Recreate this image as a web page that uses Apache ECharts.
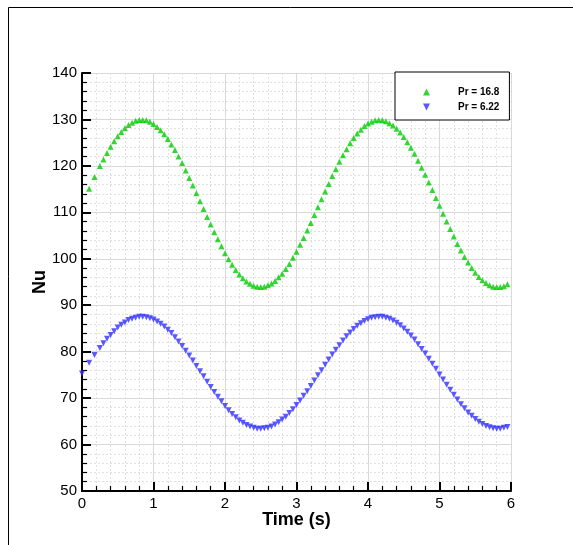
<!DOCTYPE html>
<html>
<head>
<meta charset="utf-8">
<script src="https://cdn.jsdelivr.net/npm/echarts@6/dist/echarts.min.js"></script>
<style>
html,body{margin:0;padding:0;background:#fff;}
#chart{width:573px;height:545px;}
</style>
</head>
<body>
<div id="chart"></div>
<script>
// Time (s) of each sample
var time = [0, 0.1, 0.175, 0.25,
0.3,0.35,0.4,0.45,0.5,0.55,0.6,0.65,0.7,0.75,0.8,0.85,0.9,0.95,1.0,1.05,1.1,1.15,1.2,1.25,1.3,1.35,1.4,1.45,1.5,1.55,
1.6,1.65,1.7,1.75,1.8,1.85,1.9,1.95,2.0,2.05,2.1,2.15,2.2,2.25,2.3,2.35,2.4,2.45,2.5,2.55,2.6,2.65,2.7,2.75,2.8,2.85,
2.9,2.95,3.0,3.05,3.1,3.15,3.2,3.25,3.3,3.35,3.4,3.45,3.5,3.55,3.6,3.65,3.7,3.75,3.8,3.85,3.9,3.95,4.0,4.05,4.1,4.15,
4.2,4.25,4.3,4.35,4.4,4.45,4.5,4.55,4.6,4.65,4.7,4.75,4.8,4.85,4.9,4.95,5.0,5.05,5.1,5.15,5.2,5.25,5.3,5.35,5.4,5.45,
5.5,5.55,5.6,5.65,5.7,5.75,5.8,5.85,5.9,5.95];

// Nu for Pr = 16.8 (no marker at t = 0)
var nuPr168 = [null, 115.1, 117.6, 120.0,
121.4,122.8,124.1,125.3,126.4,127.3,128.1,128.8,129.3,129.7,129.9,129.9,129.8,129.5,129.0,128.4,127.7,126.8,125.8,124.6,123.4,122.0,120.6,119.0,117.4,115.8,
114.1,112.4,110.7,109.0,107.4,105.7,104.2,102.7,101.2,99.9,98.7,97.6,96.6,95.8,95.1,94.6,94.2,94.0,93.9,94.0,94.3,94.7,95.2,96.0,96.8,97.8,
98.9,100.2,101.5,103.0,104.5,106.1,107.7,109.4,111.1,112.8,114.5,116.1,117.8,119.3,120.9,122.3,123.6,124.9,126.0,127.0,127.8,128.6,129.1,129.5,129.8,129.9,
129.8,129.6,129.2,128.7,128.0,127.2,126.2,125.1,123.9,122.6,121.1,119.6,118.1,116.4,114.8,113.1,111.4,109.7,108.0,106.4,104.8,103.2,101.8,100.4,99.2,98.0,
97.0,96.1,95.4,94.8,94.3,94.0,93.9,93.9,94.1,94.5];

// Nu for Pr = 6.22
var nuPr622 = [75.3, 77.6, 79.3, 80.8,
81.8,82.8,83.6,84.4,85.2,85.8,86.3,86.8,87.1,87.3,87.5,87.5,87.4,87.2,86.9,86.5,86.0,85.4,84.7,84.0,83.1,82.2,81.2,80.2,79.2,78.1,
76.9,75.8,74.7,73.5,72.4,71.3,70.3,69.3,68.3,67.4,66.6,65.9,65.2,64.7,64.2,63.9,63.6,63.4,63.4,63.5,63.6,63.9,64.3,64.8,65.4,66.0,
66.8,67.6,68.5,69.5,70.5,71.5,72.6,73.8,74.9,76.0,77.2,78.3,79.4,80.4,81.4,82.4,83.3,84.1,84.9,85.6,86.1,86.6,87.0,87.3,87.4,87.5,
87.5,87.3,87.1,86.7,86.2,85.7,85.0,84.3,83.5,82.6,81.6,80.6,79.6,78.5,77.4,76.3,75.1,74.0,72.9,71.8,70.7,69.7,68.7,67.8,66.9,66.2,
65.5,64.9,64.4,64.0,63.7,63.5,63.4,63.4,63.6,63.8];

var seriesNames = ['Pr = 16.8', 'Pr = 6.22'];

function pairs(xs, ys) {
  var out = [];
  for (var i = 0; i < xs.length; i++) {
    if (ys[i] !== null && ys[i] !== undefined) out.push([xs[i], ys[i]]);
  }
  return out;
}

var UP = 'path://M5,0 L10,10 L0,10 Z';
var DOWN = 'path://M0,0 L10,0 L5,10 Z';

var chart = echarts.init(document.getElementById('chart'), null, {renderer: 'canvas'});
var FONT = '"Liberation Sans", Arial, Helvetica, sans-serif';

chart.setOption({
  backgroundColor: '#fff',
  animation: false,
  textStyle: {fontFamily: FONT},
  graphic: [
    {type: 'polyline', silent: true, shape: {points: [[8.5, 545], [8.5, 7.5], [573, 7.5]]},
     style: {stroke: '#000', lineWidth: 1, fill: null}}
  ],
  grid: {left: 82, top: 73, width: 429, height: 418, containLabel: false},
  legend: {
    orient: 'vertical',
    left: 395, top: 72,
    padding: [15, 10, 8, 28],
    itemWidth: 7, itemHeight: 7,
    itemGap: 5,
    borderColor: '#000', borderWidth: 1,
    backgroundColor: '#fff',
    textStyle: {fontFamily: FONT, fontWeight: 'bold', fontSize: 10, color: '#000', padding: [0, 0, 0, 23]},
    data: [
      {name: seriesNames[0], icon: UP},
      {name: seriesNames[1], icon: DOWN}
    ]
  },
  xAxis: {
    type: 'value', min: 0, max: 6, interval: 1,
    name: 'Time (s)', nameLocation: 'middle', nameGap: 20, nameMoveOverlap: false,
    nameTextStyle: {fontFamily: FONT, fontWeight: 'bold', fontSize: 18, color: '#000'},
    axisLine: {show: true, onZero: false, lineStyle: {color: '#000', width: 2}},
    axisTick: {show: true, inside: true, length: 9, lineStyle: {color: '#000', width: 2}},
    minorTick: {show: true, splitNumber: 5, length: 5, lineStyle: {color: '#000', width: 1.2}},
    axisLabel: {fontFamily: FONT, fontSize: 15, color: '#000', margin: 5},
    splitLine: {show: true, lineStyle: {color: '#d9d9d9', width: 1}},
    minorSplitLine: {show: true, lineStyle: {color: '#e0e0e0', width: 1, type: [2, 2]}}
  },
  yAxis: {
    type: 'value', min: 50, max: 140, interval: 10,
    name: 'Nu', nameLocation: 'middle', nameGap: 33, nameRotate: 90, nameMoveOverlap: false,
    nameTextStyle: {fontFamily: FONT, fontWeight: 'bold', fontSize: 18, color: '#000'},
    axisLine: {show: true, onZero: false, lineStyle: {color: '#000', width: 2}},
    axisTick: {show: true, inside: true, length: 9, lineStyle: {color: '#000', width: 2}},
    minorTick: {show: true, splitNumber: 5, length: 5, lineStyle: {color: '#000', width: 1.2}},
    axisLabel: {fontFamily: FONT, fontSize: 15, color: '#000', margin: 5},
    splitLine: {show: true, lineStyle: {color: '#d9d9d9', width: 1}},
    minorSplitLine: {show: true, lineStyle: {color: '#e0e0e0', width: 1, type: [2, 2]}}
  },
  series: [
    {
      name: seriesNames[0], type: 'scatter',
      symbol: UP, symbolSize: 6,
      itemStyle: {color: '#00cc00'},
      data: pairs(time, nuPr168), z: 3
    },
    {
      name: seriesNames[1], type: 'scatter',
      symbol: DOWN, symbolSize: 6,
      itemStyle: {color: '#2f2fff'},
      data: pairs(time, nuPr622), z: 3
    }
  ]
});
</script>
</body>
</html>
